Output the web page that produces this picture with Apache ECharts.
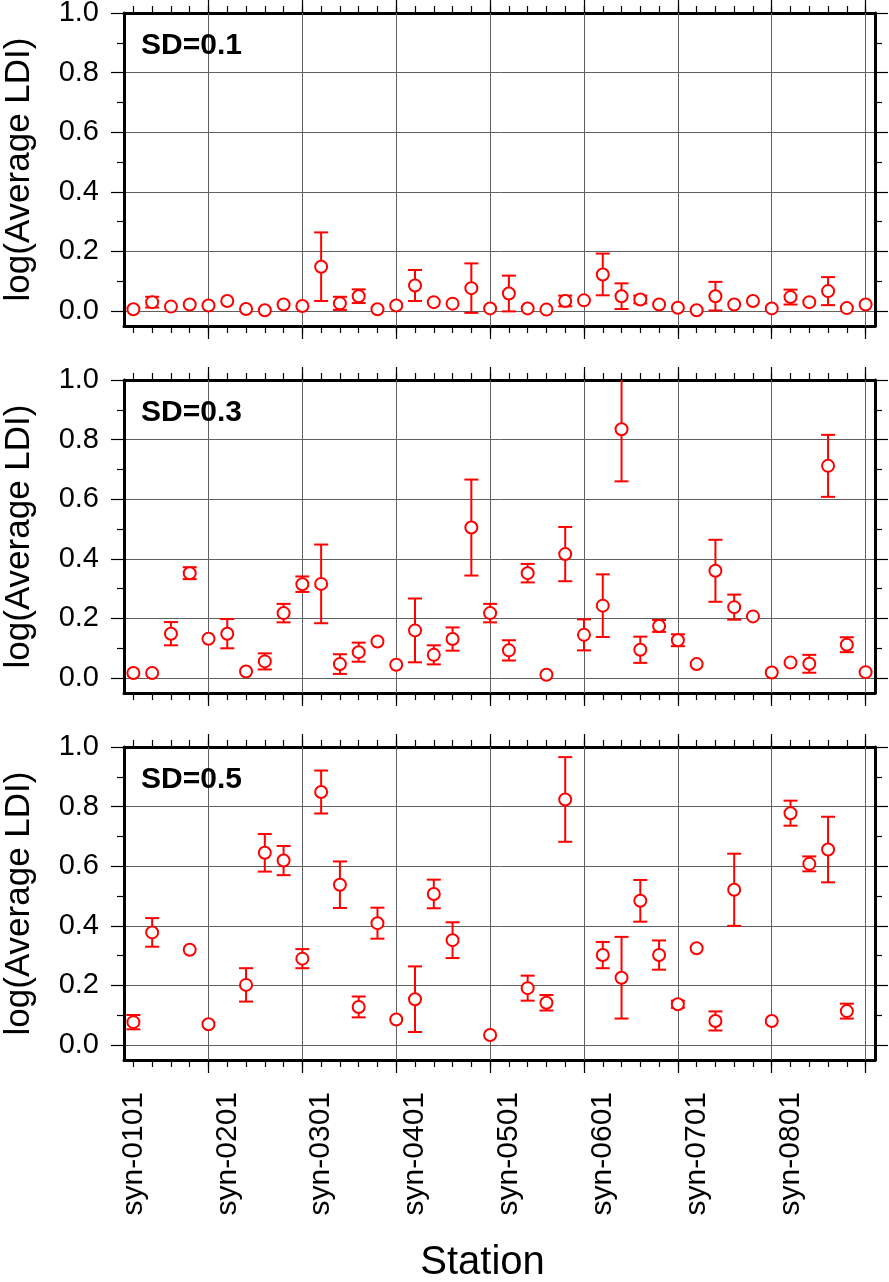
<!DOCTYPE html>
<html><head><meta charset="utf-8">
<script src="https://cdn.jsdelivr.net/npm/echarts@6/dist/echarts.min.js"></script>
<style>html,body{margin:0;padding:0;background:#fff}#chart{width:889px;height:1282px}</style>
</head><body><div id="chart"></div>
<script>
const stations = [
  'syn-0101','syn-0102','syn-0103','syn-0104','syn-0105',
  'syn-0201','syn-0202','syn-0203','syn-0204','syn-0205',
  'syn-0301','syn-0302','syn-0303','syn-0304','syn-0305',
  'syn-0401','syn-0402','syn-0403','syn-0404','syn-0405',
  'syn-0501','syn-0502','syn-0503','syn-0504','syn-0505',
  'syn-0601','syn-0602','syn-0603','syn-0604','syn-0605',
  'syn-0701','syn-0702','syn-0703','syn-0704','syn-0705',
  'syn-0801','syn-0802','syn-0803','syn-0804','syn-0805'
];
const panelLabels = ['SD=0.1', 'SD=0.3', 'SD=0.5'];
const yMajorTicks = [0, 0.2, 0.4, 0.6, 0.8, 1.0];
const yMinorTicks = [0.1, 0.3, 0.5, 0.7, 0.9];
const gridStations = ['syn-0105','syn-0205','syn-0305','syn-0405','syn-0505','syn-0605','syn-0705','syn-0805'];

const sd01Mean = [0.006,0.030,0.015,0.022,0.019, 0.034,0.007,0.003,0.022,0.017,
  0.149,0.026,0.050,0.006,0.019, 0.086,0.030,0.025,0.077,0.009,
  0.059,0.009,0.005,0.034,0.036, 0.123,0.050,0.039,0.022,0.011,
  0.003,0.050,0.022,0.034,0.009, 0.047,0.030,0.067,0.010,0.022];
const sd01Err = [0,0.018,0,0,0, 0,0,0,0,0,
  0.115,0.022,0.023,0,0, 0.052,0,0,0.083,0,
  0.060,0,0,0.018,0, 0.070,0.043,0.013,0,0,
  0,0.048,0,0,0, 0.025,0,0.047,0,0];

const sd03Mean = [0.017,0.017,0.149,0.352,0.132, 0.149,0.022,0.056,0.218,0.315,
  0.316,0.047,0.087,0.123,0.045, 0.160,0.078,0.131,0.505,0.218,
  0.093,0.352,0.011,0.416,0.145, 0.243,0.835,0.095,0.175,0.127,
  0.047,0.360,0.238,0.207,0.019, 0.052,0.048,0.712,0.112,0.020];
const sd03Err = [0,0,0.039,0.020,0, 0.049,0,0.027,0.031,0.026,
  0.132,0.033,0.032,0,0, 0.107,0.032,0.039,0.161,0.031,
  0.034,0.031,0,0.091,0.052, 0.105,0.175,0.044,0.020,0.020,
  0,0.104,0.042,0,0, 0,0.030,0.104,0.025,0];

const sd05Mean = [0.077,0.378,null,0.320,0.070, null,0.202,0.645,0.619,0.290,
  0.849,0.538,0.128,0.409,0.086, 0.154,0.507,0.352,null,0.034,
  null,0.191,0.142,0.824,null, 0.302,0.226,0.484,0.302,0.137,
  0.325,0.081,0.521,null,0.081, 0.778,0.608,0.656,0.114,null];
const sd05Err = [0.024,0.048,0,0,0, 0,0.056,0.063,0.049,0.032,
  0.072,0.078,0.035,0.052,0, 0.110,0.048,0.060,0,0,
  0,0.042,0.026,0.142,0, 0.044,0.137,0.070,0.049,0.012,
  0,0.032,0.121,0,0, 0.042,0.025,0.110,0.025,0];

const panels = [
  {label: panelLabels[0], mean: sd01Mean, err: sd01Err},
  {label: panelLabels[1], mean: sd03Mean, err: sd03Err},
  {label: panelLabels[2], mean: sd05Mean, err: sd05Err}
];

const FONT = '"Liberation Sans", Arial, Helvetica, sans-serif';
const RED = '#ff0000';
const gridTops = [13, 380, 747];
const GRID_H = 313;
const TICK = {color: '#000', width: 1.2};

const grids = [], xAxes = [], yAxes = [], series = [], titles = [];
panels.forEach((p, g) => {
  grids.push({left: 124, width: 751, top: gridTops[g], height: GRID_H, containLabel: false, outerBoundsMode: 'none'});
  titles.push({text: p.label, left: 141, top: gridTops[g] + 18, padding: 0,
    textStyle: {fontFamily: FONT, fontSize: 30, fontWeight: 'bold', color: '#000'}});
  const last = g === panels.length - 1;
  const baseX = {type: 'category', data: stations, boundaryGap: true, gridIndex: g,
    splitLine: {show: false}};
  // bottom minor ticks + frame + labels
  xAxes.push(Object.assign({}, baseX, {position: 'bottom',
    axisLine: {show: true, onZero: false, lineStyle: {color: '#000', width: 3}},
    axisTick: {show: true, alignWithLabel: true, interval: 0, length: 7, lineStyle: TICK},
    axisLabel: {show: last, rotate: 90, interval: (i) => i % 5 === 0, margin: 32,
      fontFamily: FONT, fontSize: 30, color: '#000'},
    name: last ? 'Station' : '', nameLocation: 'middle', nameGap: 183,
    nameTextStyle: {fontFamily: FONT, fontSize: 40, color: '#000', padding: [0, 34, 0, 0]}}));
  // bottom major ticks
  xAxes.push(Object.assign({}, baseX, {position: 'bottom',
    axisLine: {show: false, onZero: false},
    axisTick: {show: true, alignWithLabel: true, interval: (i) => i % 5 === 4, length: 13, lineStyle: TICK},
    axisLabel: {show: false}}));
  // top minor ticks + frame
  xAxes.push(Object.assign({}, baseX, {position: 'top',
    axisLine: {show: true, onZero: false, lineStyle: {color: '#000', width: 3}},
    axisTick: {show: true, alignWithLabel: true, interval: 0, length: 7, lineStyle: TICK},
    axisLabel: {show: false}}));
  // top major ticks
  xAxes.push(Object.assign({}, baseX, {position: 'top',
    axisLine: {show: false, onZero: false},
    axisTick: {show: true, alignWithLabel: true, interval: (i) => i % 5 === 4, length: 13, lineStyle: TICK},
    axisLabel: {show: false}}));

  const baseY = {type: 'value', min: -0.05, max: 1.0, gridIndex: g};
  yAxes.push(Object.assign({}, baseY, {position: 'left',
    axisLine: {show: true, onZero: false, lineStyle: {color: '#000', width: 3}},
    axisTick: {show: true, customValues: yMajorTicks, length: 13, lineStyle: TICK},
    axisLabel: {show: true, customValues: yMajorTicks, formatter: (v) => v.toFixed(1), margin: 25,
      fontFamily: FONT, fontSize: 29, color: '#000'},
    splitLine: {show: true, lineStyle: {color: '#606060', width: 1}},
    name: 'log(Average LDI)', nameLocation: 'middle', nameGap: 87,
    nameTextStyle: {fontFamily: FONT, fontSize: 35, color: '#000'}}));
  yAxes.push(Object.assign({}, baseY, {position: 'left',
    axisLine: {show: false, onZero: false},
    axisTick: {show: true, customValues: yMinorTicks, length: 7, lineStyle: TICK},
    axisLabel: {show: false}, splitLine: {show: false}}));
  yAxes.push(Object.assign({}, baseY, {position: 'right',
    axisLine: {show: true, onZero: false, lineStyle: {color: '#000', width: 3}},
    axisTick: {show: true, customValues: yMajorTicks, length: 13, lineStyle: TICK},
    axisLabel: {show: false}, splitLine: {show: false}}));
  yAxes.push(Object.assign({}, baseY, {position: 'right',
    axisLine: {show: false, onZero: false},
    axisTick: {show: true, customValues: yMinorTicks, length: 7, lineStyle: TICK},
    axisLabel: {show: false}, splitLine: {show: false}}));

  const errData = [];
  p.mean.forEach((v, i) => { if (v !== null) errData.push([i, v, p.err[i]]); });

  series.push({
    type: 'custom', xAxisIndex: 4 * g, yAxisIndex: 4 * g, z: 2, clip: true,
    data: errData,
    encode: {x: 0, y: 1},
    renderItem: (params, api) => {
      const x = api.value(0), v = api.value(1), e = api.value(2);
      if (!e) return null;
      const hi = api.coord([x, v + e]);
      const lo = api.coord([x, v - e]);
      const w = 7;
      const st = {stroke: RED, lineWidth: 2};
      return {type: 'group', children: [
        {type: 'line', shape: {x1: hi[0], y1: hi[1], x2: lo[0], y2: lo[1]}, style: st},
        {type: 'line', shape: {x1: hi[0] - w, y1: hi[1], x2: hi[0] + w, y2: hi[1]}, style: st},
        {type: 'line', shape: {x1: lo[0] - w, y1: lo[1], x2: lo[0] + w, y2: lo[1]}, style: st}
      ]};
    },
    markLine: {
      silent: true, symbol: 'none', z: 1, animation: false,
      label: {show: false},
      lineStyle: {color: '#606060', width: 1, type: 'solid'},
      data: gridStations.map((s) => ({xAxis: s}))
    }
  });
  series.push({
    type: 'scatter', xAxisIndex: 4 * g, yAxisIndex: 4 * g, z: 3,
    data: p.mean,
    symbol: 'circle', symbolSize: 12,
    itemStyle: {color: '#ffffff', borderColor: RED, borderWidth: 2, opacity: 1},
    emphasis: {disabled: true}
  });
});

const chart = echarts.init(document.getElementById('chart'), null, {renderer: 'canvas'});
chart.setOption({
  animation: false,
  backgroundColor: '#ffffff',
  textStyle: {fontFamily: FONT},
  title: titles,
  grid: grids,
  xAxis: xAxes,
  yAxis: yAxes,
  series: series
});
</script>
</body></html>
